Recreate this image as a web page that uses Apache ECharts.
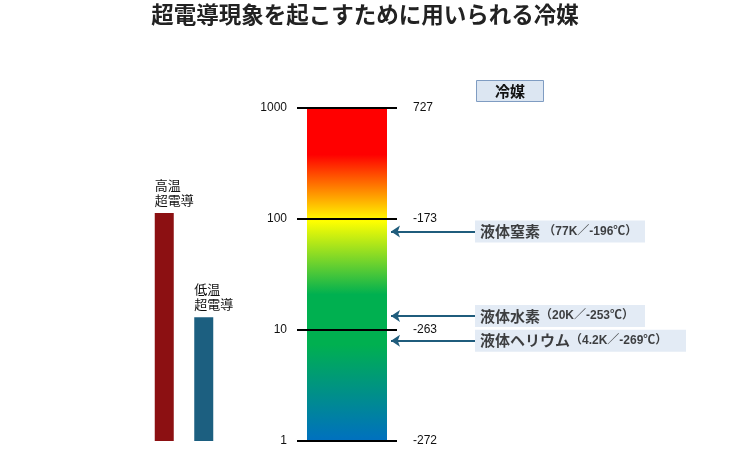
<!DOCTYPE html>
<html><head><meta charset="utf-8">
<script src="https://cdn.jsdelivr.net/npm/echarts@6/dist/echarts.min.js"></script>
<style>html,body{margin:0;padding:0;background:#fff}#c{width:730px;height:450px}</style>
</head><body><div id="c"></div>
<script>
// ---- data ----
const titleText = '超電導現象を起こすために用いられる冷媒';
const legendBoxText = '冷媒';
const scaleTicksK = [1, 10, 100, 1000];
const scaleTicksC = ['-272', '-263', '-173', '727'];
const scaleMaxK = 1000;
const scCategories = ['高温\n超電導', '低温\n超電導'];
const scValuesK = [113, 13];
const refNames = ['液体窒素', '液体水素', '液体ヘリウム'];
const refKelvin = ['77K', '20K', '4.2K'];
const refCelsius = ['-196℃', '-253℃', '-269℃'];
const refArrowPosK = [77, 13.4, 8];

const FONT = '"Liberation Sans", "Noto Sans CJK JP", sans-serif';
const CJK = '"Noto Sans CJK JP", sans-serif';
const TOP = 108, H = 333;

const chart = echarts.init(document.getElementById('c'), null, {renderer: 'canvas'});

function tickIndex(v) { return Math.round(Math.log10(v)); }

const logAxisBase = {type: 'log', logBase: 10, min: 1, max: scaleMaxK};

const option = {
  animation: false,
  backgroundColor: '#fff',
  title: [
    {text: titleText, left: 'center', top: 3, padding: 0,
     textStyle: {fontFamily: CJK, fontSize: 22.5, fontWeight: 'bold', color: '#222'}},
    {text: legendBoxText, left: 476, top: 80, padding: [3, 19, 3, 19],
     backgroundColor: '#DCE6F2', borderColor: '#7F9CC2', borderWidth: 1,
     textStyle: {fontFamily: CJK, fontSize: 15, fontWeight: 'bold', color: '#111', lineHeight: 16}}
  ],
  grid: [
    {left: 144.5, width: 79, top: TOP, height: H},
    {left: 297, width: 100, top: TOP, height: H},
    {left: 390, width: 300, top: TOP, height: H}
  ],
  xAxis: [
    {type: 'category', gridIndex: 0, data: scCategories, show: false},
    {type: 'category', gridIndex: 1, data: ['scale'], show: false},
    {type: 'value', gridIndex: 2, min: 0, max: 300, show: false}
  ],
  yAxis: [
    Object.assign({gridIndex: 0, show: false}, logAxisBase),
    Object.assign({gridIndex: 1, position: 'left',
      axisLine: {show: false}, axisTick: {show: false}, splitLine: {show: false},
      axisLabel: {margin: 10, color: '#111', fontSize: 12, fontFamily: FONT,
        formatter: v => String(scaleTicksK[tickIndex(v)])}}, logAxisBase),
    Object.assign({gridIndex: 1, position: 'right',
      axisLine: {show: false}, axisTick: {show: false}, splitLine: {show: false},
      axisLabel: {margin: 16, color: '#111', fontSize: 12, fontFamily: FONT,
        formatter: v => scaleTicksC[tickIndex(v)]}}, logAxisBase),
    Object.assign({gridIndex: 2, show: false}, logAxisBase)
  ],
  series: [
    {
      type: 'bar', xAxisIndex: 0, yAxisIndex: 0, barWidth: 19,
      data: scValuesK.map((v, i) => ({value: v,
        itemStyle: {color: i === 0 ? '#8C1012' : '#1C5F80'}})),
      label: {show: true, position: [0, -6], align: 'left', verticalAlign: 'bottom',
        formatter: p => scCategories[p.dataIndex],
        fontFamily: CJK, fontSize: 13, lineHeight: 15, color: '#111'}
    },
    {
      type: 'bar', xAxisIndex: 1, yAxisIndex: 1, barWidth: 80,
      data: [scaleMaxK],
      itemStyle: {color: new echarts.graphic.LinearGradient(0, 0, 0, 1, [
        {offset: 0, color: '#FF0000'},
        {offset: 0.14, color: '#FF0000'},
        {offset: 0.34, color: '#FFFF00'},
        {offset: 0.56, color: '#00B050'},
        {offset: 0.71, color: '#00B050'},
        {offset: 1, color: '#0070C0'}
      ])},
      markLine: {silent: true, symbol: 'none', label: {show: false},
        lineStyle: {color: '#000', width: 2, type: 'solid'},
        data: scaleTicksK.map(v => ({yAxis: v}))}
    },
    {
      type: 'lines', coordinateSystem: 'cartesian2d', xAxisIndex: 2, yAxisIndex: 3,
      symbol: ['none', 'arrow'], symbolSize: 9,
      lineStyle: {color: '#1F5C7C', width: 2, opacity: 1},
      data: refArrowPosK.map(y => ({coords: [[85, y], [1, y]]}))
    },
    {
      type: 'scatter', xAxisIndex: 2, yAxisIndex: 3, symbolSize: 0, silent: true,
      data: refArrowPosK.map((y, i) => ({value: [85, y],
        label: {width: i === 2 ? 206 : 165}})),
      label: {show: true, position: 'right', distance: 0,
        backgroundColor: '#DCE6F2', padding: [3, 0, 3, 5],
        formatter: p => '{a|' + refNames[p.dataIndex] + '}' + (p.dataIndex === 0 ? ' ' : '') +
          '{b|（' + refKelvin[p.dataIndex] + '／' + refCelsius[p.dataIndex] + '）}',
        rich: {
          a: {fontFamily: CJK, fontSize: 15, fontWeight: 'bold', color: '#111', lineHeight: 16},
          b: {fontFamily: FONT, fontSize: 12, fontWeight: 'bold', color: '#111', lineHeight: 16}
        }}
    }
  ]
};
chart.setOption(option);
</script>
</body></html>
